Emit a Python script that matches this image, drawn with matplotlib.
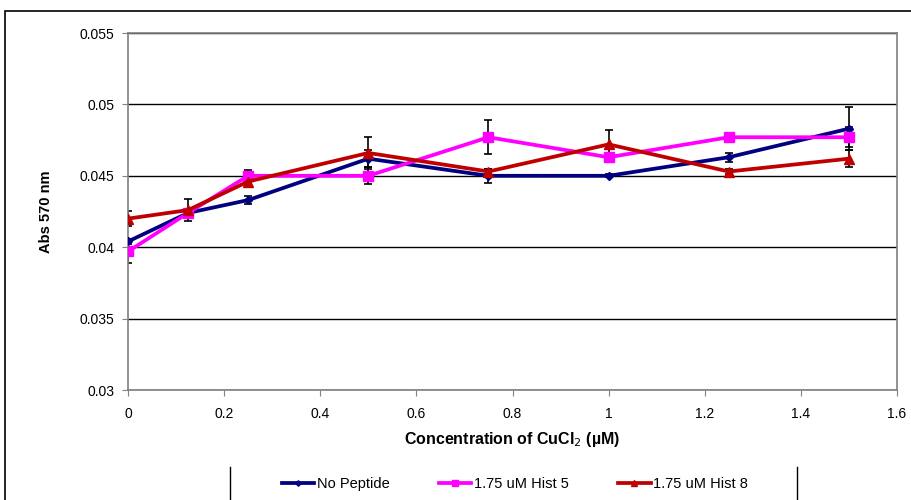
import matplotlib
matplotlib.use("Agg")
import matplotlib.pyplot as plt
from matplotlib.lines import Line2D
from matplotlib.patches import Rectangle

plt.rcParams['font.family'] = ['Liberation Sans', 'DejaVu Sans']

conc = [0, 0.125, 0.25, 0.5, 0.75, 1.0, 1.25, 1.5]
no_peptide = [0.0404, 0.0424, 0.0433, 0.0462, 0.0450, 0.0450, 0.0463, 0.0483]
no_peptide_err = [0.0002, 0.0002, 0.0003, 0.0006, 0.0005, 0.0001, 0.0003, 0.0015]
hist5 = [0.0397, 0.0424, 0.0450, 0.0450, 0.0477, 0.0463, 0.0477, 0.0477]
hist5_err = [0.0008, 0.0003, 0.0004, 0.0006, 0.0012, 0.0003, 0.0003, 0.0007]
hist8 = [0.0420, 0.0426, 0.0446, 0.0466, 0.0453, 0.0472, 0.0453, 0.0462]
hist8_err = [0.0005, 0.0008, 0.0003, 0.0011, 0.0002, 0.0010, 0.0002, 0.0006]

series = [
    ("No Peptide", no_peptide, no_peptide_err, "#000080", "D", 4),
    ("1.75 uM Hist 5", hist5, hist5_err, "#FF00FF", "s", 7),
    ("1.75 uM Hist 8", hist8, hist8_err, "#C00000", "^", 7),
]

fig = plt.figure(figsize=(9.12, 5.0), dpi=100)
ax = fig.add_axes([128/912, 1-390/500, (897-128)/912, (390-33)/500])

# outer chart border
fig.patches.append(Rectangle((5/912, -0.1), 1.2, 1-11/500+0.1, transform=fig.transFigure,
                             fill=False, edgecolor='black', lw=1.2))

handles = []
for name, vals, errs, col, mk, ms in series:
    ax.errorbar(conc, vals, yerr=errs, fmt='none', ecolor='black', elinewidth=1.2,
                capsize=3, capthick=1.2, zorder=2)
    h, = ax.plot(conc, vals, color=col, lw=2.7, marker=mk, markersize=ms, label=name, zorder=3)
    handles.append(h)

ax.set_xlim(0, 1.6)
ax.set_ylim(0.03, 0.055)
ax.set_xticks([0, 0.2, 0.4, 0.6, 0.8, 1.0, 1.2, 1.4, 1.6])
ax.set_xticklabels(['0', '0.2', '0.4', '0.6', '0.8', '1', '1.2', '1.4', '1.6'])
ax.set_yticks([0.03, 0.035, 0.04, 0.045, 0.05, 0.055])
ax.set_yticklabels(['0.03', '0.035', '0.04', '0.045', '0.05', '0.055'])
ax.yaxis.grid(True, color='black', lw=1)
ax.set_axisbelow(True)
for s in ax.spines.values():
    s.set_color('#808080')
    s.set_linewidth(1.2)
ax.tick_params(axis='both', labelsize=10, length=4, color='#808080', direction='out')
ax.tick_params(axis='x', pad=8)
ax.tick_params(axis='y', pad=6)

ax.set_xlabel('Concentration of CuCl$_2$ (\u00b5M)', fontsize=11.5, fontweight='bold', labelpad=7)
ax.set_ylabel('Abs 570 nm', fontsize=10.5, fontweight='bold', labelpad=19)

leg = fig.legend(handles=handles, loc='center', bbox_to_anchor=(515/912, 1-484/500), ncol=3,
                 frameon=False, fontsize=10.5, handlelength=2.2, handletextpad=0.2,
                 columnspacing=3.4, markerscale=0.7)

for xp in (230, 797):
    fig.add_artist(Line2D([xp/912, xp/912], [0, 1-467/500], transform=fig.transFigure,
                          color='black', lw=1))

fig.savefig('out.png', dpi=100)
